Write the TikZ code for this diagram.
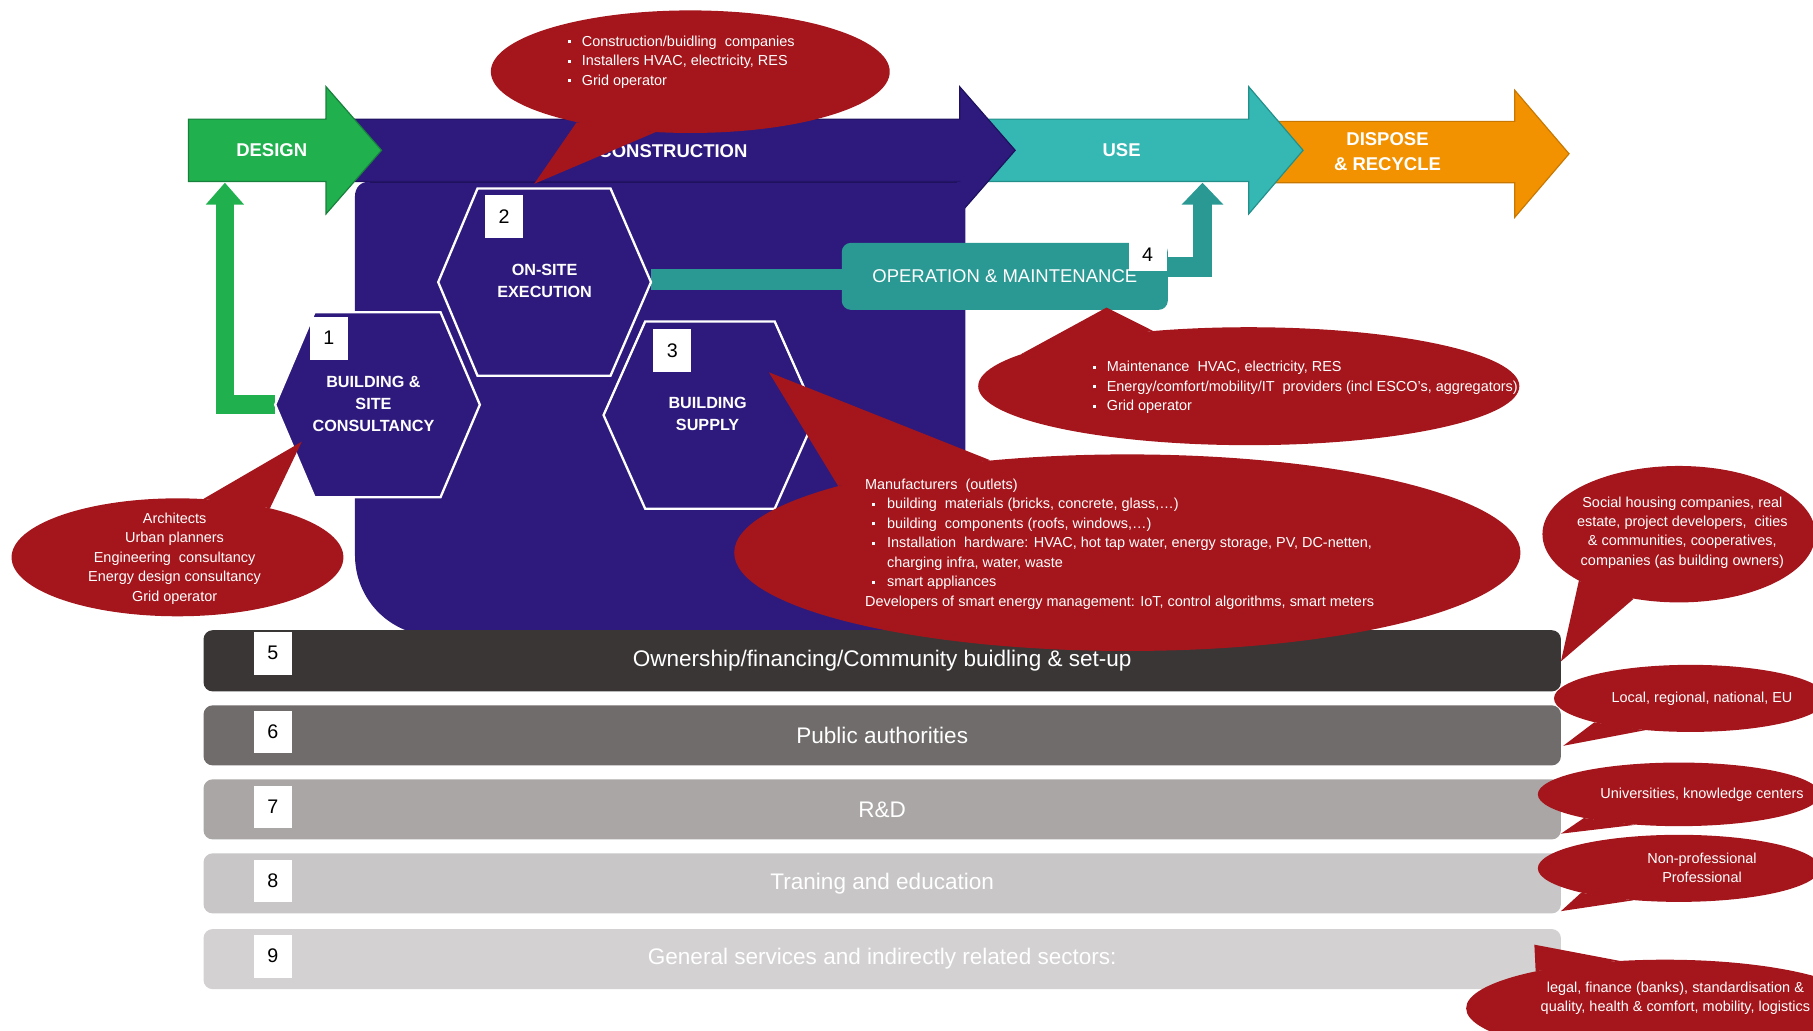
\documentclass[tikz,border=0pt]{standalone}
\usepackage{fontspec}
\setmainfont{Liberation Sans}
\usetikzlibrary{arrows.meta,shapes.geometric,calc}
\definecolor{dgreen}{HTML}{20B04E}
\definecolor{dgreenline}{HTML}{17803C}
\definecolor{purp}{HTML}{2E1A7C}
\definecolor{purpline}{HTML}{1F115E}
\definecolor{useteal}{HTML}{35B7B3}
\definecolor{usetealline}{HTML}{238F8B}
\definecolor{omteal}{HTML}{2A9994}
\definecolor{orng}{HTML}{F39200}
\definecolor{orngline}{HTML}{C87700}
\definecolor{cred}{HTML}{A4161C}
\definecolor{barA}{HTML}{3A3636}
\definecolor{barB}{HTML}{716C6C}
\definecolor{barC}{HTML}{AAA6A6}
\definecolor{barD}{HTML}{C8C6C6}
\definecolor{barE}{HTML}{D3D1D1}
\newcommand\bulA{\makebox[12pt][l]{\raisebox{2.5pt}{\rule{2.6pt}{2.6pt}}}}
\newcommand\bulC{\makebox[19pt][l]{\hspace{6pt}\raisebox{2.5pt}{\rule{2.6pt}{2.6pt}}}}
\begin{document}
\begin{tikzpicture}[x=1pt,y=-1pt,
  arrlbl/.style={text=white, font=\fontsize{16}{20}\selectfont\bfseries, align=center, inner sep=0pt},
  hexlbl/.style={text=white, font=\fontsize{14}{19}\selectfont\bfseries, align=center, inner sep=0pt},
  hexshape/.style={fill=purp, draw=white, line width=2pt},
  numbox/.style={fill=white, minimum width=33pt, minimum height=37pt, inner sep=0pt, font=\fontsize{17}{17}\selectfont},
  bar/.style={rounded corners=8pt, minimum width=1174pt, minimum height=52pt, inner sep=0pt, text=white, font=\fontsize{19.5}{22}\selectfont},
  callout/.style={ellipse, fill=cred, inner sep=0pt},
  ctext/.style={text=white, inner sep=0pt, font=\fontsize{12.5}{16.8}\selectfont},
  omline/.style={omteal, line width=17pt},
]
\useasboundingbox (0,0) rectangle (1568,891);
\clip (0,0) rectangle (1568,891);

% ---- process arrows ----
\fill[orng, draw=orngline, line width=1pt] (1100,105) -- (1310,105) -- (1310,78) -- (1357,133) -- (1310,188) -- (1310,158) -- (1100,158) -- cycle;
\fill[useteal, draw=usetealline, line width=1pt] (850,103) -- (1080,103) -- (1080,75) -- (1127,130) -- (1080,185) -- (1080,157) -- (850,157) -- cycle;
\fill[purp, draw=purpline, line width=1pt] (282,103) -- (830,103) -- (830,75) -- (878,130) -- (830,185) -- (830,157) -- (282,157) -- cycle;
% construction area
\fill[purp] (320,157) -- (835,157) -- (835,550) -- (377,550) .. controls (338,550) and (307,519) .. (307,480) -- (307,170) .. controls (307,162) and (312,157) .. (320,157) -- cycle;
\draw[purpline, line width=1pt] (320,157.5) -- (828,157.5);
\fill[dgreen, draw=dgreenline, line width=1pt] (163,103) -- (282,103) -- (282,75) -- (330,130) -- (282,185) -- (282,157) -- (163,157) -- cycle;

\node[arrlbl] (design) at (235,130) {DESIGN};
\node[arrlbl] (construction) at (582,131) {CONSTRUCTION};
\node[arrlbl] (use) at (970,130) {USE};
\node[arrlbl, font=\fontsize{16}{22}\selectfont\bfseries] (dispose) at (1200,131) {DISPOSE\\\& RECYCLE};

% ---- anchor points ----
\coordinate (h1w) at (238,350);
\coordinate (h2e) at (563,242);
\coordinate (designin) at (194.5,158);
\coordinate (usein) at (1040,158);

% green feedback arrow to design
\draw[dgreen, line width=16pt, line join=miter, -{Triangle[width=32pt,length=19pt]}] (h1w) -| (designin);

% O&M box and connectors
\node[fill=omteal, rounded corners=8pt, minimum width=282pt, minimum height=58pt, inner sep=0pt,
      text=white, font=\fontsize{16}{18}\selectfont] (om) at (869,239) {OPERATION \& MAINTENANCE};
\draw[omteal, line width=18pt] (h2e) -- (h2e -| om.west);
\draw[omline, line join=miter, -{Triangle[width=35pt,length=19pt]}] ($(om.east)+(-6,-8)$) -| (usein);
\node[numbox, minimum height=28pt] (n4) at (992.5,220) {4};

% ---- hexagons ----
\draw[hexshape] (238,350) -- (272,270) -- (381,270) -- (415,350) -- (381,430) -- (272,430) -- cycle;
\draw[hexshape] (379,244) -- (413,163) -- (528,163) -- (563,244) -- (528,325) -- (413,325) -- cycle;
\draw[hexshape] (522,359) -- (558,278) -- (670,278) -- (706,359) -- (670,440) -- (558,440) -- cycle;
\node[hexlbl] (hex1) at (323,349.5) {BUILDING \&\\SITE\\CONSULTANCY};
\node[hexlbl] (hex2) at (471,243) {ON-SITE\\EXECUTION};
\node[hexlbl] (hex3) at (612,358) {BUILDING\\SUPPLY};
\node[numbox] (n1) at (284.5,292.5) {1};
\node[numbox] (n2) at (436,187.5) {2};
\node[numbox] (n3) at (581.5,303) {3};

% ---- horizontal bars ----
\node[bar, fill=barA, minimum height=53pt] (b5) at (763,571.5) {Ownership/financing/Community buidling \& set-up};
\node[bar, fill=barB] (b6) at (763,636) {Public authorities};
\node[bar, fill=barC] (b7) at (763,700) {R\&D};
\node[bar, fill=barD] (b8) at (763,764) {Traning and education};
\node[bar, fill=barE] (b9) at (763,829.5) {General services and indirectly related sectors:};
\node[numbox] (n5) at (236,565) {5};
\node[numbox] (n6) at (236,633) {6};
\node[numbox] (n7) at (236,698) {7};
\node[numbox] (n8) at (236,762) {8};
\node[numbox] (n9) at (236,827) {9};

% ---- callouts ----
\coordinate (tA) at (462,159);
\coordinate (tB) at (957,266);
\coordinate (tC) at (665,322);
\coordinate (tD) at (261,382);
\coordinate (tE) at (1350,572);
\coordinate (tF) at (1352,645);
\coordinate (tG) at (1350,721);
\coordinate (tH) at (1350,788);
\coordinate (tI) at (1327,817);

\node[callout, minimum width=345pt, minimum height=106pt] (cA) at (597,62) {};
\node[callout, minimum width=468pt, minimum height=102pt] (cB) at (1080,334) {};
\node[callout, minimum width=680pt, minimum height=170pt] (cC) at (975,478) {};
\node[callout, minimum width=287pt, minimum height=102pt] (cD) at (153.5,482) {};
\node[callout, minimum width=236pt, minimum height=118pt] (cE) at (1452,462) {};
\node[callout, minimum width=236pt, minimum height=58pt] (cF) at (1462,604) {};
\node[callout, minimum width=244pt, minimum height=55pt] (cG) at (1452,687) {};
\node[callout, minimum width=244pt, minimum height=58pt] (cH) at (1452,751) {};
\node[callout, minimum width=344pt, minimum height=84pt] (cI) at (1440,872) {};

\fill[cred] (tA) -- (cA.204) -- (cA.240) -- cycle;
\fill[cred] (tB) -- (cB.172) -- (cB.150) -- cycle;
\fill[cred] (tC) -- (cC.167) -- (cC.146) -- cycle;
\fill[cred] (tD) -- (cD.66) -- (cD.28) -- cycle;
\fill[cred] (tE) -- (cE.205) -- (cE.235) -- cycle;
\fill[cred] (tF) -- (cF.194) -- (cF.215) -- cycle;
\fill[cred] (tG) -- (cG.194) -- (cG.215) -- cycle;
\fill[cred] (tH) -- (cH.194) -- (cH.215) -- cycle;
\fill[cred] (tI) -- (cI.164) -- (cI.134) -- cycle;

\node[ctext, align=left, anchor=west] (xA) at (491,53.5) {\bulA Construction/buidling\ \ companies\\\bulA Installers HVAC, electricity, RES\\\bulA Grid operator};
\node[ctext, align=left, anchor=west] (xB) at (945,335) {\bulA Maintenance\ \ HVAC,\ electricity, RES\\\bulA Energy/comfort/mobility/IT\ \ providers (incl ESCO's, aggregators)\\\bulA Grid operator};
\node[ctext, align=left, anchor=west] (xC) at (748,470.5) {Manufacturers\ \ (outlets)\\\bulC building\ \ materials (bricks, concrete, glass,\dots)\\\bulC building\ \ components (roofs, windows,\dots)\\\bulC Installation\ \ hardware: HVAC,\ hot tap water, energy storage, PV, DC-netten,\\\hspace{19pt}charging infra, water, waste\\\bulC smart appliances\\Developers of smart energy management: IoT, control algorithms, smart meters};
\node[ctext, align=center] (xD) at (151,483) {Architects\\Urban planners\\Engineering\ \ consultancy\\Energy design consultancy\\Grid operator};
\node[ctext, align=center] (xE) at (1455,460.5) {Social housing companies, real\\estate, project developers,\ \ cities\\\& communities, cooperatives,\\companies (as building owners)};
\node[ctext] (xF) at (1472,604) {Local, regional, national, EU};
\node[ctext] (xG) at (1472,687) {Universities, knowledge centers};
\node[ctext, align=center] (xH) at (1472,750.5) {Non-professional\\Professional};
\node[ctext, align=center] (xI) at (1449,863.5) {legal, finance (banks), standardisation \&\\quality, health \& comfort, mobility, logistics};
\end{tikzpicture}
\end{document}
